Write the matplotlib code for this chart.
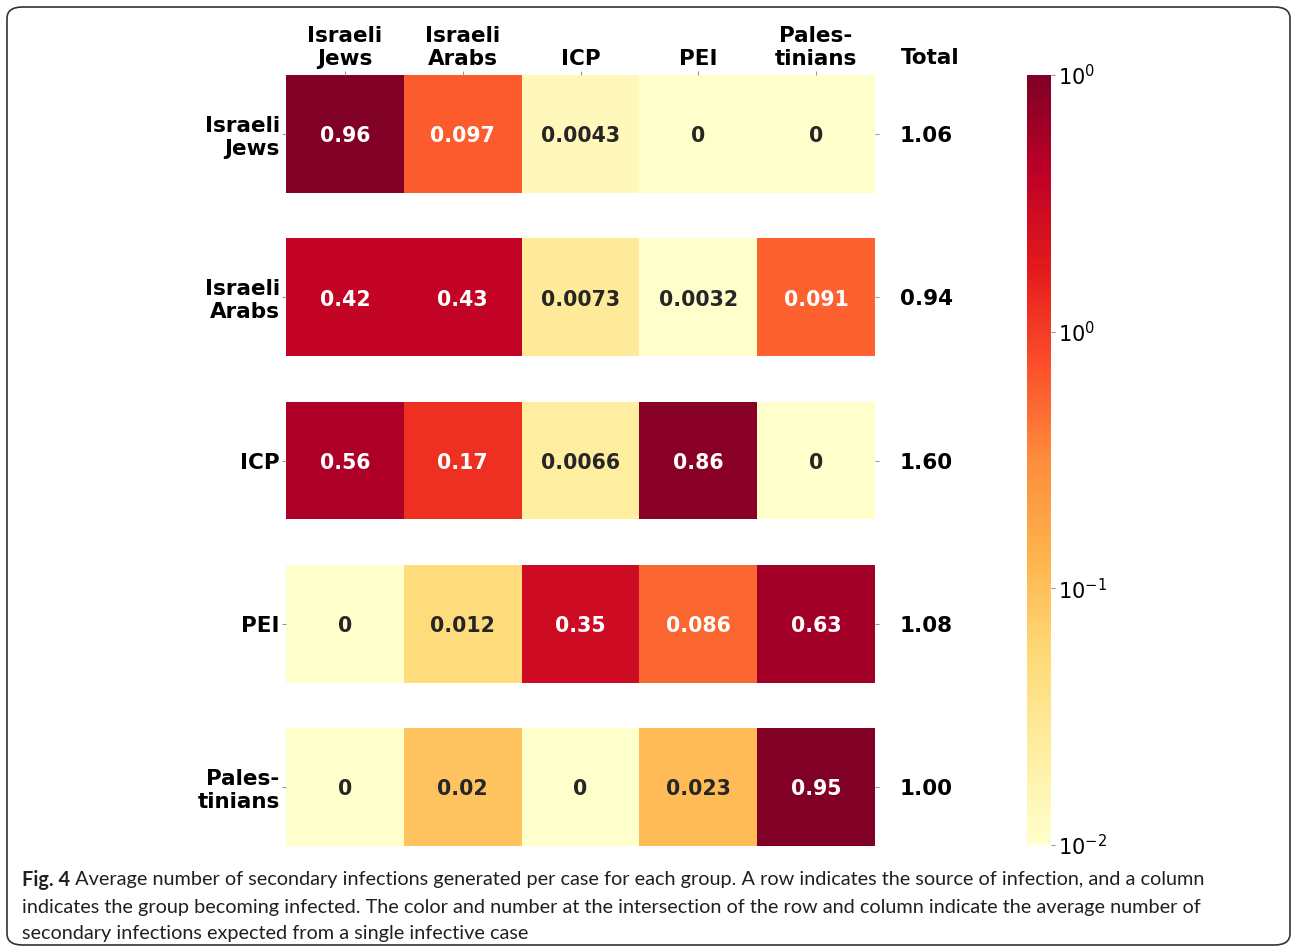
import matplotlib
matplotlib.use("Agg")
import matplotlib.pyplot as plt
import numpy as np
from matplotlib.colors import LogNorm, to_rgb
from matplotlib.cm import ScalarMappable
from matplotlib.patches import FancyBboxPatch

# Secondary infections per case: row = source group, column = infected group
groups = ["Israeli\nJews", "Israeli\nArabs", "ICP", "PEI", "Pales-\ntinians"]
row_israeli_jews = [0.96, 0.097, 0.0043, 0, 0]
row_israeli_arabs = [0.42, 0.43, 0.0073, 0.0032, 0.091]
row_icp = [0.56, 0.17, 0.0066, 0.86, 0]
row_pei = [0, 0.012, 0.35, 0.086, 0.63]
row_palestinians = [0, 0.02, 0, 0.023, 0.95]
totals = [1.06, 0.94, 1.60, 1.08, 1.00]

cbar_ticks = [0.01, 0.1, 1, 10]
cbar_labels = ["$10^{-2}$", "$10^{-1}$", "$10^{0}$", "$10^{0}$"]

caption_head = "Fig. 4"
caption_lines = [
    " Average number of secondary infections generated per case for each group. A row indicates the source of infection, and a column",
    "indicates the group becoming infected. The color and number at the intersection of the row and column indicate the average number of",
    "secondary infections expected from a single infective case",
]

W, H = 1292, 950
DPI = 100
ROW_GAP = 0.385
LABEL_SIZE = 15.5
ANNOT_SIZE = 14.8

matrix = np.array([row_israeli_jews, row_israeli_arabs, row_icp, row_pei, row_palestinians])
nonzero = matrix[matrix > 0]
norm = LogNorm(vmin=nonzero.min(), vmax=nonzero.max())
cmap = plt.get_cmap("YlOrRd").copy()
cmap.set_bad(cmap(0.0))


def text_color(rgba):
    # same luminance rule seaborn uses for annotations
    rgb = np.array(to_rgb(rgba))
    lin = np.where(rgb <= 0.03928, rgb / 12.92, ((rgb + 0.055) / 1.055) ** 2.4)
    lum = 0.2126 * lin[0] + 0.7152 * lin[1] + 0.0722 * lin[2]
    return "#262626" if lum > 0.408 else "white"


fig = plt.figure(figsize=(W / DPI, H / DPI), dpi=DPI)

ax = fig.add_axes([286 / W, 1 - 846 / H, 589 / W, 771 / H])
n_rows, n_cols = matrix.shape
step = 1 + ROW_GAP
x_edges = np.arange(n_cols + 1)
centers_y = []
for r in range(n_rows):
    y0 = r * step
    vals = np.ma.masked_less_equal(matrix[r:r + 1], 0)
    ax.pcolormesh(x_edges, [y0, y0 + 1], vals, cmap=cmap, norm=norm, shading="flat")
    centers_y.append(y0 + 0.5)
    for c in range(n_cols):
        v = matrix[r, c]
        color = cmap(norm(v)) if v > 0 else cmap(0.0)
        ax.text(c + 0.5, y0 + 0.52, f"{v:.2g}", ha="center", va="center",
                fontsize=ANNOT_SIZE, fontweight="bold", color=text_color(color))

ax.set_xlim(0, n_cols)
ax.set_ylim((n_rows - 1) * step + 1, 0)
for s in ax.spines.values():
    s.set_visible(False)

ax.xaxis.tick_top()
ax.set_xticks(np.arange(n_cols) + 0.5)
ax.set_xticklabels(groups, fontsize=LABEL_SIZE, fontweight="bold", linespacing=1.2)
ax.set_yticks(centers_y)
ax.set_yticklabels(groups, fontsize=LABEL_SIZE, fontweight="bold", linespacing=1.2)
ax.tick_params(length=3, width=0.8, color="#999999", pad=1.5)

ax2 = ax.twinx()
ax2.set_ylim(ax.get_ylim())
ax2.set_yticks(centers_y)
ax2.set_yticklabels([f"{t:.2f}" for t in totals], fontsize=LABEL_SIZE, fontweight="bold")
ax2.tick_params(length=3, width=0.8, color="#999999", pad=15)
for s in ax2.spines.values():
    s.set_visible(False)

ax.text(5.47, -0.06, "Total", ha="center", va="bottom",
        fontsize=LABEL_SIZE, fontweight="bold")

cax = fig.add_axes([1027 / W, 1 - 845 / H, 24 / W, 770 / H])
sm = ScalarMappable(norm=LogNorm(vmin=0.01, vmax=10), cmap="YlOrRd")
cbar = fig.colorbar(sm, cax=cax)
cbar.outline.set_visible(False)
cbar.set_ticks(cbar_ticks)
cbar.set_ticklabels(cbar_labels)
cbar.ax.minorticks_off()
cbar.ax.tick_params(length=3, width=0.8, color="#999999", labelsize=15, pad=2)

# caption under the chart
cap_x = 22 / W
cap_font = "Lato"
cap_size = 14.3
head = fig.text(cap_x, 1 - 880 / H, caption_head, ha="left", va="center",
                fontsize=cap_size, fontweight="bold", family=cap_font, color="#231f20")
fig.canvas.draw()
bb = head.get_window_extent()
fig.text(bb.x1 / W, 1 - 880 / H, caption_lines[0], ha="left", va="center",
         fontsize=cap_size, family=cap_font, color="#231f20")
for i, line in enumerate(caption_lines[1:], start=1):
    fig.text(cap_x, 1 - (880 + 27 * i) / H, line, ha="left", va="center",
             fontsize=cap_size, family=cap_font, color="#231f20")

frame = FancyBboxPatch((7 / W, 5 / H), 1283 / W, 938 / H,
                       boxstyle="round,pad=0,rounding_size=0.012",
                       transform=fig.transFigure, facecolor="none",
                       edgecolor="#333333", linewidth=1.2)
fig.patches.append(frame)

fig.savefig("out.png", dpi=DPI)
